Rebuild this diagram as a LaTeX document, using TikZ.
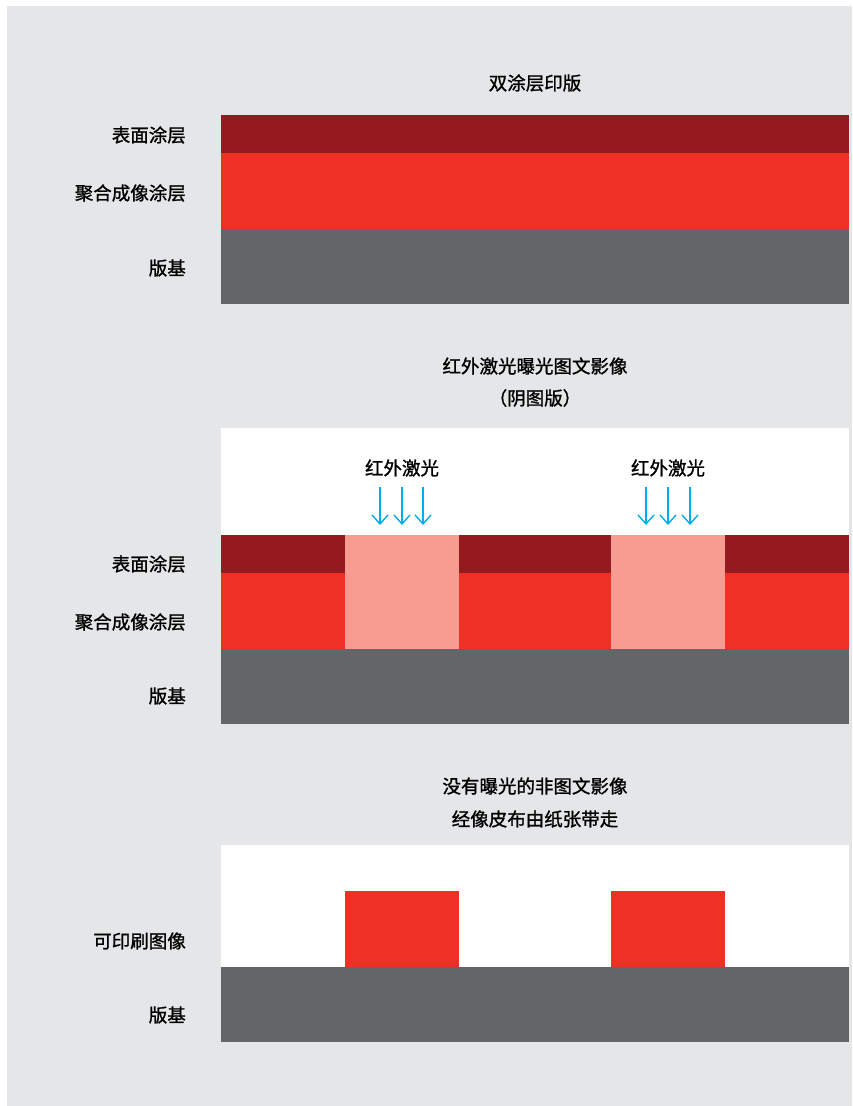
\documentclass[tikz,border=0pt]{standalone}
\usepackage{fontspec}
\setmainfont{Noto Sans CJK SC}
\newfontfamily\medfont[FakeBold=1.2]{Noto Sans CJK SC}
\usetikzlibrary{arrows.meta}
\definecolor{bgc}{HTML}{E5E6E8}
\definecolor{topc}{HTML}{941A1F}
\definecolor{redc}{HTML}{EE3124}
\definecolor{pinkc}{HTML}{F69C91}
\definecolor{basec}{HTML}{646567}
\definecolor{laserc}{HTML}{00AEEF}
\tikzset{
  lbl/.style={anchor=east, inner sep=0pt, font=\medfont\fontsize{18.5}{20}\selectfont},
  ttl/.style={anchor=center, inner sep=0pt, font=\medfont\fontsize{18.5}{20}\selectfont},
  laser/.style={draw=laserc, line width=1.4pt, -{Straight Barb[length=9pt,width=16pt,line width=1.4pt]}},
}
\begin{document}
\begin{tikzpicture}[x=1pt,y=-1pt]
\useasboundingbox (0,0) rectangle (852,1106);
\fill[white] (0,0) rectangle (852,1106);
\fill[bgc] (7,6) rectangle (852,1106);
% panel 1
\node[ttl] (t1) at (535,83) {双涂层印版};
\fill[topc] (221,115) rectangle (849,153);
\fill[redc] (221,153) rectangle (849,229);
\fill[basec] (221,229) rectangle (849,304);
\node[lbl] (a1) at (186,135) {表面涂层};
\node[lbl] (a2) at (186,193) {聚合成像涂层};
\node[lbl] (a3) at (186,268) {版基};
% panel 2
\node[ttl] (t2) at (535,366) {红外激光曝光图文影像};
\node[ttl] (t3) at (535,398) {（阴图版）};
\fill[white] (221,428) rectangle (849,535);
\fill[topc] (221,535) rectangle (849,573);
\fill[redc] (221,573) rectangle (849,649);
\fill[pinkc] (345,535) rectangle (459,649);
\fill[pinkc] (611,535) rectangle (725,649);
\fill[basec] (221,649) rectangle (849,724);
\node[lbl] (b1) at (186,564) {表面涂层};
\node[lbl] (b2) at (186,622) {聚合成像涂层};
\node[lbl] (b3) at (186,696) {版基};
\node[ttl] (l1) at (402,468) {红外激光};
\node[ttl] (l2) at (668,468) {红外激光};
\foreach \x [count=\i] in {380,402,423,646,668,690}{
  \coordinate (s\i) at (\x,487);
  \coordinate (e\i) at (\x,525);
  \draw[laser] (s\i) -- (e\i);
}
% panel 3
\node[ttl] (t4) at (535,786) {没有曝光的非图文影像};
\node[ttl] (t5) at (535,819) {经像皮布由纸张带走};
\fill[white] (221,845) rectangle (849,967);
\fill[redc] (345,891) rectangle (459,967);
\fill[redc] (611,891) rectangle (725,967);
\fill[basec] (221,967) rectangle (849,1042);
\node[lbl] (c1) at (186,941) {可印刷图像};
\node[lbl] (c2) at (186,1015) {版基};
\end{tikzpicture}
\end{document}
